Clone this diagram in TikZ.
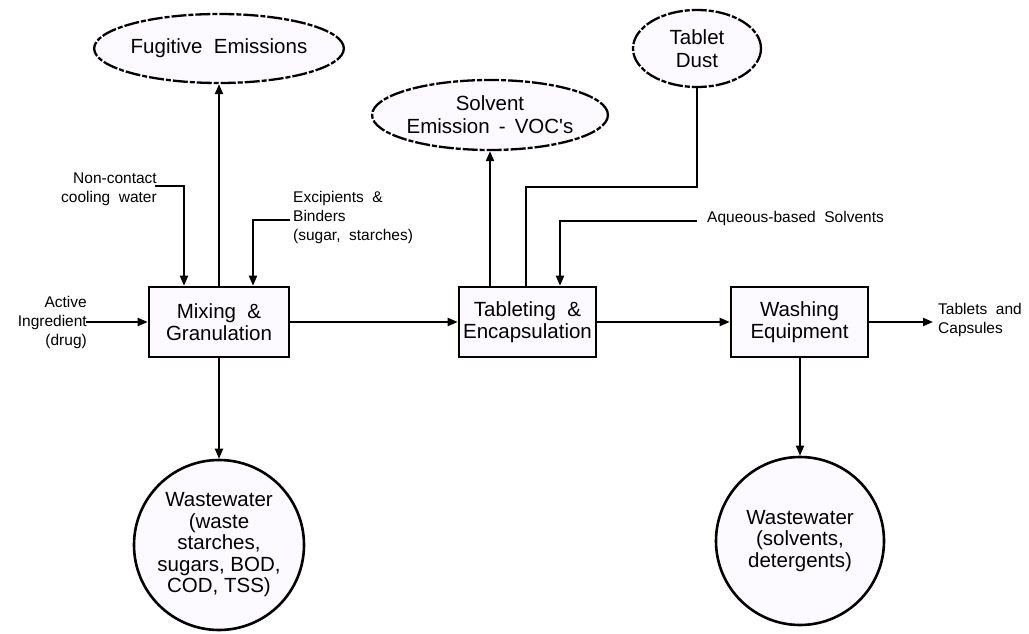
\documentclass[tikz,border=0pt]{standalone}
\usepackage{fontspec}
\setmainfont{Liberation Sans}
\usepackage{xcolor}
\usepackage{tikz}
\usetikzlibrary{shapes.geometric, arrows.meta, positioning, calc}
\definecolor{paleshade}{HTML}{FCFAFF}
\definecolor{inkline}{HTML}{000000}
\tikzset{
  unitbox/.style={rectangle, draw=inkline, line width=2.6pt, fill=paleshade,
              align=center, inner sep=2pt,
              font=\fontsize{20.5}{22.5}\selectfont},
  emission/.style={ellipse, draw=inkline, line width=2.3pt, fill=paleshade,
              dash pattern=on 15pt off 2pt on 5pt off 2pt,
              align=center, inner sep=0pt,
              font=\fontsize{20.5}{23}\selectfont},
  waste/.style={circle, draw=inkline, line width=2.6pt, fill=paleshade,
              align=center, inner sep=0pt,
              font=\fontsize{20.5}{21.5}\selectfont},
  stream/.style={line width=2pt, color=inkline},
  flow/.style={stream, -{Triangle[length=10pt, width=8pt]}},
  lbl/.style={font=\fontsize{15.5}{19}\selectfont, inner sep=0pt},
}

\begin{document}
\begin{tikzpicture}[x=1pt, y=1pt]
  \useasboundingbox (0,0) rectangle (1029,633);

  % ── Process units ────────────────────────────────────────────────────────
  \node[unitbox, minimum width=140pt, minimum height=70pt] (mix)  at (219,311)   {Mixing \ \&\\Granulation};
  \node[unitbox, minimum width=137pt, minimum height=70pt] (tab)  at (527.5,311) {Tableting \ \&\\Encapsulation};
  \node[unitbox, minimum width=137pt, minimum height=70pt] (wash) at (799.5,311) {Washing\\Equipment};

  % ── Air emissions ────────────────────────────────────────────────────────
  \node[emission, minimum width=206pt, minimum height=69pt] (fug)  at (219,584.5) {Fugitive \ Emissions};
  \node[emission, minimum width=209pt, minimum height=70pt] (solv) at (490,518)   {Solvent\\Emission \,- \,VOC\textquotesingle s};
  \node[emission, minimum width=128pt, minimum height=77pt] (dust) at (697,584.5) {Tablet\\Dust};

  % ── Wastewater ───────────────────────────────────────────────────────────
  \node[waste, minimum size=170pt] (ww1) at (219,88) {Wastewater\\(waste\\starches,\\sugars, BOD,\\COD, TSS)};
  \node[waste, minimum size=168pt] (ww2) at (800,92) {Wastewater\\(solvents,\\detergents)};

  % ── Inputs and outputs ───────────────────────────────────────────────────
  \node[lbl, align=right, anchor=east] (actlbl)  at (87,311)  {Active\\Ingredient\\(drug)};
  \node[lbl, align=right, anchor=east] (coollbl) at (157,443.5) {Non-contact\\cooling \ water};
  \node[lbl, align=left,  anchor=west] (exclbl)  at (293,416) {Excipients \ \&\\Binders\\(sugar, \ starches)};
  \node[lbl, anchor=west]              (aqlbl)   at (707,415) {Aqueous-based \ Solvents};
  \node[lbl, align=left,  anchor=west] (outlbl)  at (938,313) {Tablets \ and\\Capsules};

  \coordinate (actpt)  at (86,311);
  \coordinate (coolpt) at (155,447);
  \coordinate (excpt)  at (290,413);
  \coordinate (aqpt)   at (697,412);
  \coordinate (outpt)  at (933,311);

  % ── Edges ────────────────────────────────────────────────────────────────
  \draw[flow] (actpt) -- (mix.west);
  \draw[flow] (coolpt) -| ([xshift=-35pt]mix.north);
  \draw[flow] (excpt) -| ([xshift=34pt]mix.north);
  \draw[flow] (mix.north) -- (fug.south);
  \draw[flow] (mix.south) -- (ww1.north);

  \draw[flow] (mix.east) -- (tab.west);
  \draw[flow] (tab.north -| solv.south) -- (solv.south);
  \draw[stream] (dust.south) -- ++(0,-99) -| ([xshift=-1.5pt]tab.north);
  \draw[flow] (aqpt) -| ([xshift=32.5pt]tab.north);

  \draw[flow] (tab.east) -- (wash.west);
  \draw[flow] (wash.east) -- (outpt);
  \draw[flow] (wash.south -| ww2.north) -- (ww2.north);

\end{tikzpicture}
\end{document}
